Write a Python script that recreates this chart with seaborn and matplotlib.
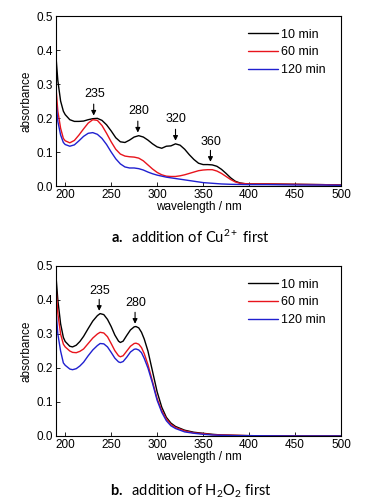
import numpy as np
import pandas as pd
import matplotlib
matplotlib.use("Agg")
import matplotlib.pyplot as plt
import seaborn as sns

sns.set_style("ticks")
plt.rcParams["font.family"] = ["Liberation Sans", "DejaVu Sans"]
plt.rcParams["text.color"] = "black"
plt.rcParams["axes.labelcolor"] = "black"
plt.rcParams["xtick.color"] = "black"
plt.rcParams["ytick.color"] = "black"
plt.rcParams["axes.edgecolor"] = "black"
plt.rcParams["mathtext.fontset"] = "custom"
plt.rcParams["mathtext.rm"] = "Lato"
plt.rcParams["mathtext.it"] = "Lato"
plt.rcParams["mathtext.bf"] = "Lato:bold"

series_names = ["10 min", "60 min", "120 min"]
series_colors = ["black", "#e8141c", "#2020d0"]

# panel a: addition of Cu2+ first
wl_a_10 = [190, 192, 195, 198, 200, 205, 210, 215, 220, 225, 230, 235, 240, 245, 250, 255, 260, 265, 270, 275, 280, 285, 290, 295, 300, 305, 310, 315, 320, 325, 330, 335, 340, 345, 350, 355, 360, 365, 370, 375, 380, 385, 390, 395, 400, 420, 450, 480, 500]
abs_a_10 = [0.38, 0.31, 0.25, 0.22, 0.21, 0.195, 0.19, 0.19, 0.191, 0.195, 0.198, 0.199, 0.193, 0.18, 0.162, 0.142, 0.13, 0.128, 0.135, 0.144, 0.148, 0.144, 0.135, 0.124, 0.115, 0.111, 0.117, 0.118, 0.124, 0.12, 0.108, 0.092, 0.078, 0.067, 0.063, 0.063, 0.062, 0.058, 0.049, 0.037, 0.024, 0.014, 0.009, 0.007, 0.006, 0.006, 0.005, 0.004, 0.003]

wl_a_60 = [190, 192, 195, 198, 200, 205, 210, 215, 220, 225, 230, 235, 240, 245, 250, 255, 260, 265, 270, 275, 280, 285, 290, 295, 300, 305, 310, 315, 320, 325, 330, 335, 340, 345, 350, 355, 360, 365, 370, 375, 380, 385, 390, 395, 400, 420, 450, 480, 500]
abs_a_60 = [0.29, 0.22, 0.17, 0.14, 0.133, 0.127, 0.134, 0.15, 0.168, 0.185, 0.195, 0.193, 0.178, 0.155, 0.13, 0.108, 0.094, 0.088, 0.086, 0.085, 0.082, 0.074, 0.062, 0.05, 0.04, 0.033, 0.029, 0.028, 0.028, 0.03, 0.033, 0.037, 0.041, 0.045, 0.047, 0.048, 0.048, 0.044, 0.037, 0.028, 0.019, 0.012, 0.008, 0.007, 0.006, 0.006, 0.005, 0.004, 0.003]

wl_a_120 = [190, 192, 195, 198, 200, 205, 210, 215, 220, 225, 230, 235, 240, 245, 250, 255, 260, 265, 270, 275, 280, 285, 290, 295, 300, 310, 320, 330, 340, 350, 360, 370, 380, 400, 420, 450, 480, 500]
abs_a_120 = [0.25, 0.19, 0.15, 0.128, 0.122, 0.117, 0.121, 0.133, 0.146, 0.155, 0.157, 0.152, 0.14, 0.122, 0.1, 0.08, 0.065, 0.056, 0.053, 0.053, 0.051, 0.047, 0.041, 0.036, 0.032, 0.026, 0.022, 0.018, 0.014, 0.01, 0.008, 0.006, 0.005, 0.004, 0.004, 0.003, 0.003, 0.002]

# panel b: addition of H2O2 first
wl_b = [190, 192, 195, 198, 200, 205, 208, 212, 216, 220, 225, 230, 235, 238, 242, 246, 250, 254, 258, 260, 263, 267, 271, 275, 277, 280, 283, 286, 290, 295, 300, 305, 310, 315, 320, 330, 340, 350, 360, 370, 385, 400, 450, 500]
abs_b_10 = [0.47, 0.4, 0.33, 0.29, 0.278, 0.264, 0.262, 0.267, 0.278, 0.293, 0.316, 0.338, 0.354, 0.36, 0.357, 0.343, 0.322, 0.297, 0.279, 0.275, 0.279, 0.296, 0.312, 0.321, 0.322, 0.318, 0.305, 0.285, 0.25, 0.19, 0.13, 0.085, 0.055, 0.038, 0.028, 0.017, 0.011, 0.008, 0.005, 0.003, 0.002, 0.001, 0.0, 0.0]
abs_b_60 = [0.44, 0.36, 0.3, 0.27, 0.262, 0.25, 0.246, 0.245, 0.249, 0.256, 0.272, 0.288, 0.3, 0.305, 0.303, 0.292, 0.272, 0.251, 0.236, 0.233, 0.236, 0.25, 0.264, 0.272, 0.273, 0.27, 0.26, 0.242, 0.21, 0.16, 0.11, 0.075, 0.05, 0.034, 0.025, 0.015, 0.009, 0.007, 0.004, 0.003, 0.002, 0.001, 0.0, 0.0]
abs_b_120 = [0.37, 0.3, 0.25, 0.215, 0.208, 0.197, 0.195, 0.198, 0.206, 0.217, 0.236, 0.253, 0.266, 0.272, 0.271, 0.262, 0.246, 0.229, 0.218, 0.216, 0.219, 0.232, 0.247, 0.255, 0.256, 0.253, 0.245, 0.228, 0.2, 0.155, 0.105, 0.07, 0.045, 0.03, 0.022, 0.012, 0.008, 0.005, 0.003, 0.002, 0.001, 0.001, 0.0, 0.0]

# peak annotations: (label, wavelength, tip absorbance, label height)
peaks_a = [("235", 231, 0.199, 0.27), ("280", 279, 0.149, 0.222), ("320", 320, 0.125, 0.198), ("360", 358, 0.063, 0.13)]
peaks_b = [("235", 237, 0.36, 0.427), ("280", 276, 0.322, 0.39)]

caption_a = r"$\mathbf{a.}$  addition of Cu$^{2+}$ first"
caption_b = r"$\mathbf{b.}$  addition of H$_2$O$_2$ first"

panels = [
    ([(wl_a_10, abs_a_10), (wl_a_60, abs_a_60), (wl_a_120, abs_a_120)], peaks_a, caption_a,
     [56 / 381, 1 - 186 / 503, 285 / 381, 170 / 503], 1 - 237 / 503),
    ([(wl_b, abs_b_10), (wl_b, abs_b_60), (wl_b, abs_b_120)], peaks_b, caption_b,
     [56 / 381, 1 - 436 / 503, 285 / 381, 170 / 503], 1 - 491 / 503),
]

fig = plt.figure(figsize=(3.81, 5.03), dpi=100)

for curves, peaks, caption, rect, cap_y in panels:
    ax = fig.add_axes(rect)
    rows = []
    for name, (wl, ab) in zip(series_names, curves):
        rows.append(pd.DataFrame({"wavelength": wl, "absorbance": ab, "series": name}))
    df = pd.concat(rows, ignore_index=True)

    sns.lineplot(
        data=df,
        x="wavelength",
        y="absorbance",
        hue="series",
        hue_order=series_names,
        palette=series_colors,
        linewidth=1.0,
        ax=ax,
        sort=False,
    )

    for label, x, tip, ytext in peaks:
        ax.annotate(
            "",
            xy=(x, tip),
            xytext=(x, tip + 0.05),
            arrowprops=dict(arrowstyle="-|>", color="black", lw=0.8, mutation_scale=7),
        )
        ax.text(x + 1, ytext, label, ha="center", va="center", fontsize=9)

    ax.set_xlim(190, 500)
    ax.set_ylim(0, 0.5)
    ax.set_xticks([200, 250, 300, 350, 400, 450, 500])
    ax.set_yticks([0.0, 0.1, 0.2, 0.3, 0.4, 0.5])
    ax.set_yticklabels(["0.0", "0.1", "0.2", "0.3", "0.4", "0.5"])
    ax.tick_params(direction="in", length=3, width=0.6, labelsize=8.5, pad=2)
    for spine in ax.spines.values():
        spine.set_linewidth(0.8)
    ax.set_xlabel("wavelength / nm", fontsize=8.5, labelpad=0)
    ax.set_ylabel("absorbance", fontsize=8.5, labelpad=3)

    ax.legend(
        loc="upper right",
        bbox_to_anchor=(0.965, 0.955),
        frameon=False,
        fontsize=9,
        handlelength=2.4,
        handletextpad=0.25,
        labelspacing=0.45,
        borderaxespad=0,
    )

    fig.text(0.5, cap_y, caption, ha="center", va="center", fontsize=10.5,
             family=["Lato", "DejaVu Sans"])

plt.savefig("out.png", dpi=100)
plt.close()
